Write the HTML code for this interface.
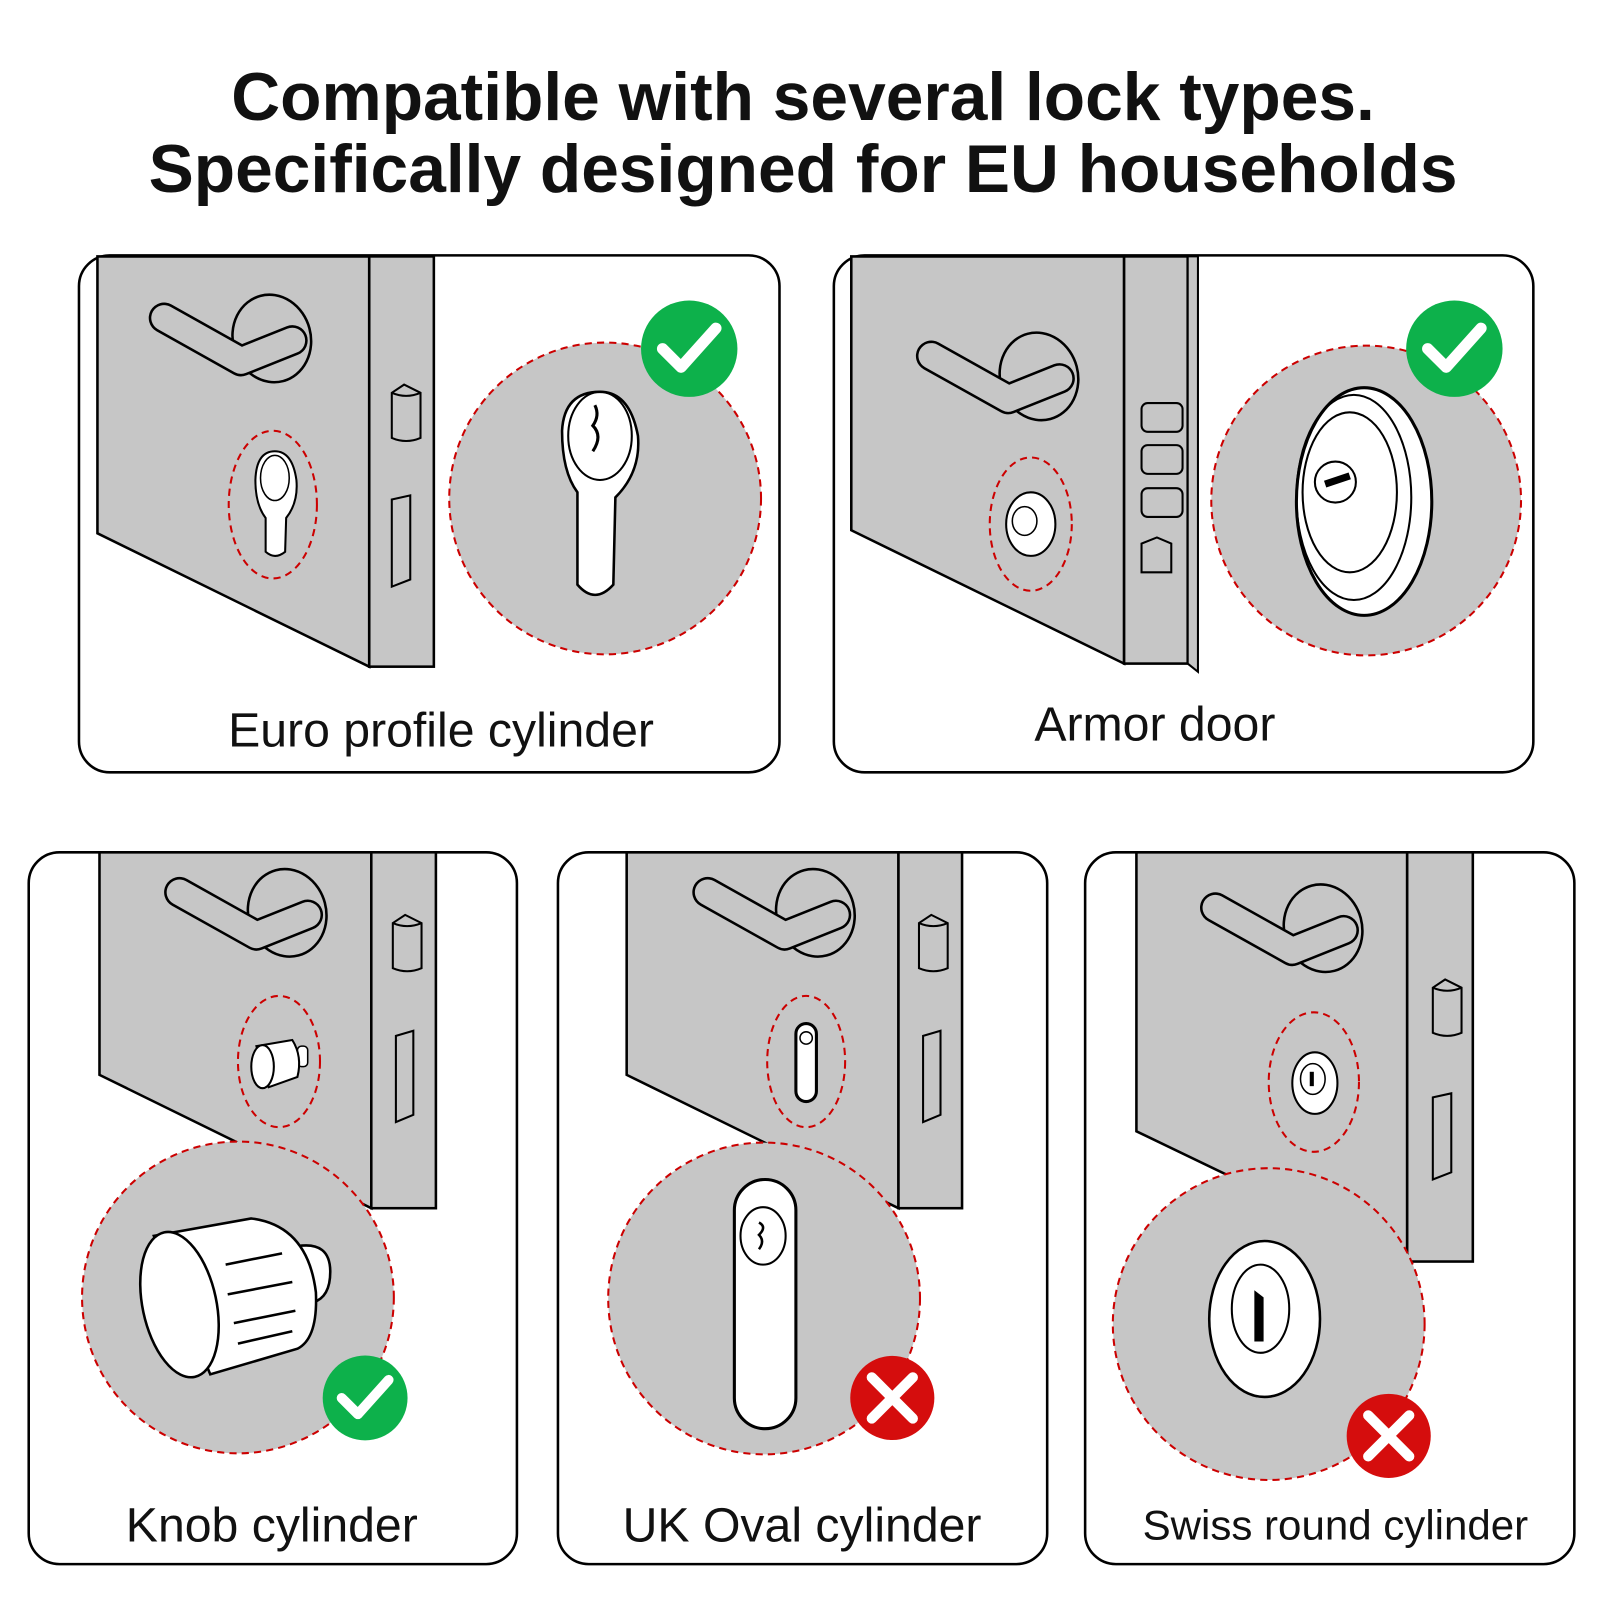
<!DOCTYPE html>
<html><head><meta charset="utf-8"><style>html,body{margin:0;padding:0;background:#fff;overflow:hidden}svg{display:block}</style></head>
<body>
<svg width="1600" height="1600" viewBox="0 0 1560 1560" xmlns="http://www.w3.org/2000/svg" font-family="Liberation Sans, sans-serif">
<defs>
<g id="handle">
<ellipse cx="0" cy="0" rx="38" ry="43" transform="rotate(-15)" fill="#c6c6c6" stroke="#000" stroke-width="2.5"/>
<polyline points="-105,-20 -30,22 20,2" fill="none" stroke="#000" stroke-width="30" stroke-linecap="round" stroke-linejoin="round"/>
<polyline points="-105,-20 -30,22 20,2" fill="none" stroke="#c6c6c6" stroke-width="25" stroke-linecap="round" stroke-linejoin="round"/>
</g>
<g id="latch">
<path d="M0,8 L12,0 L28,8 L28,52 Q14,58 0,52 Z" fill="#c6c6c6" stroke="#000" stroke-width="2"/>
<path d="M0,8 Q14,14 28,8" fill="none" stroke="#000" stroke-width="2"/>
</g>
<g id="check"><circle r="47" fill="#0db14b"/><polyline points="-26,0 -8,18 26,-20" fill="none" stroke="#fff" stroke-width="11" stroke-linecap="round" stroke-linejoin="round"/></g>
<g id="xmark"><circle r="41" fill="#d50d0d"/><path d="M-20,-20 L20,20 M20,-20 L-20,20" stroke="#fff" stroke-width="10" stroke-linecap="round"/></g>
</defs>
<text x="783" y="117" font-size="66" font-weight="bold" text-anchor="middle" fill="#111">Compatible with several lock types.</text>
<text x="783" y="187" font-size="66" font-weight="bold" text-anchor="middle" fill="#111">Specifically designed for EU households</text>

<!-- Panel 1 -->
<rect x="77" y="249" width="683" height="504" rx="30" fill="#fff" stroke="#000" stroke-width="2.5"/>
<polygon points="95,250 360,250 360,650 95,520" fill="#c6c6c6" stroke="#000" stroke-width="2.5"/>
<rect x="360" y="250" width="63" height="400" fill="#c6c6c6" stroke="#000" stroke-width="2.5"/>
<use href="#handle" transform="translate(265,330)"/>
<use href="#latch" transform="translate(382,375)"/>
<polygon points="382,487 400,483 400,565 382,572" fill="#c6c6c6" stroke="#000" stroke-width="2"/>
<ellipse cx="266" cy="492" rx="43" ry="72" fill="none" stroke="#c00" stroke-width="2" stroke-dasharray="7,5"/>
<path d="M259,505 L259,538 Q268,546 278,538 L279,505 Q291,490 289,468 Q285,440 268,440 Q250,440 249,468 Q249,492 259,505Z" fill="#fff" stroke="#000" stroke-width="2"/>
<ellipse cx="268" cy="466" rx="14" ry="22" fill="none" stroke="#000" stroke-width="1.5"/>
<circle cx="590" cy="486" r="152" fill="#c6c6c6" stroke="#c00" stroke-width="2" stroke-dasharray="7,5"/>
<path d="M563,480 L563,570 Q580,590 598,570 L600,485 Q625,460 622,425 Q614,382 585,382 Q550,382 548,420 Q548,460 563,480Z" fill="#fff" stroke="#000" stroke-width="2.5"/>
<ellipse cx="585" cy="425" rx="31" ry="43" fill="none" stroke="#000" stroke-width="2"/>
<path d="M580,395 Q585,405 578,415 Q588,425 578,440" fill="none" stroke="#000" stroke-width="3"/>
<use href="#check" transform="translate(672,340)"/>
<text x="430" y="728" font-size="47" text-anchor="middle" fill="#111">Euro profile cylinder</text>

<!-- Panel 2 -->
<rect x="813" y="249" width="682" height="504" rx="30" fill="#fff" stroke="#000" stroke-width="2.5"/>
<polygon points="830,250 1096,250 1096,647 830,517" fill="#c6c6c6" stroke="#000" stroke-width="2.5"/>
<rect x="1096" y="250" width="62" height="397" fill="#c6c6c6" stroke="#000" stroke-width="2.5"/>
<polygon points="1158,250 1168,250 1168,655 1158,647" fill="#c6c6c6" stroke="#000" stroke-width="2"/>
<use href="#handle" transform="translate(1013,367)"/>
<g fill="#c6c6c6" stroke="#000" stroke-width="2">
<rect x="1113" y="393" width="40" height="28" rx="6"/><rect x="1113" y="434" width="40" height="28" rx="6"/><rect x="1113" y="476" width="40" height="28" rx="6"/>
<path d="M1113,530 L1128,524 L1142,530 L1142,558 L1113,558Z"/></g>
<ellipse cx="1005" cy="511" rx="40" ry="65" fill="none" stroke="#c00" stroke-width="2" stroke-dasharray="7,5"/>
<ellipse cx="1005" cy="511" rx="24" ry="31" fill="#fff" stroke="#000" stroke-width="2"/>
<ellipse cx="999" cy="508" rx="12" ry="14" fill="#fff" stroke="#000" stroke-width="1.5"/>
<circle cx="1332" cy="488" r="151" fill="#c6c6c6" stroke="#c00" stroke-width="2" stroke-dasharray="7,5"/>
<ellipse cx="1330" cy="489" rx="66" ry="111" fill="#fff" stroke="#000" stroke-width="3"/>
<ellipse cx="1320" cy="485" rx="56" ry="100" fill="none" stroke="#000" stroke-width="2"/>
<ellipse cx="1316" cy="480" rx="46" ry="78" fill="none" stroke="#000" stroke-width="2"/>
<circle cx="1302" cy="470" r="20" fill="#fff" stroke="#000" stroke-width="2"/>
<line x1="1292" y1="472" x2="1316" y2="464" stroke="#000" stroke-width="7"/>
<use href="#check" transform="translate(1418,340)"/>
<text x="1126" y="722" font-size="47" text-anchor="middle" fill="#111">Armor door</text>

<!-- Panel 3 -->
<rect x="28" y="831" width="476" height="694" rx="30" fill="#fff" stroke="#000" stroke-width="2.5"/>
<polygon points="97,831 362,831 362,1178 97,1048" fill="#c6c6c6" stroke="#000" stroke-width="2.5"/>
<rect x="362" y="831" width="63" height="347" fill="#c6c6c6" stroke="#000" stroke-width="2.5"/>
<use href="#handle" transform="translate(280,890)"/>
<use href="#latch" transform="translate(383,892)"/>
<polygon points="386,1010 403,1005 403,1087 386,1094" fill="#c6c6c6" stroke="#000" stroke-width="2"/>
<ellipse cx="272" cy="1035" rx="40" ry="64" fill="none" stroke="#c00" stroke-width="2" stroke-dasharray="7,5"/>
<rect x="290" y="1020" width="10" height="20" rx="4" fill="#fff" stroke="#000" stroke-width="1.5"/>
<path d="M250,1020 L285,1014 Q295,1030 290,1050 L262,1060 Z" fill="#fff" stroke="#000" stroke-width="2"/>
<ellipse cx="256" cy="1040" rx="11" ry="21" fill="#fff" stroke="#000" stroke-width="2"/>
<circle cx="232" cy="1265" r="152" fill="#c6c6c6" stroke="#c00" stroke-width="2" stroke-dasharray="7,5"/>
<path d="M290,1215 Q322,1210 322,1240 Q322,1265 305,1270Z" fill="#fff" stroke="#000" stroke-width="2.5"/>
<path d="M150,1205 L245,1188 Q300,1195 308,1260 Q310,1305 290,1315 L205,1340 Z" fill="#fff" stroke="#000" stroke-width="2.5"/>
<ellipse cx="175" cy="1272" rx="36" ry="72" transform="rotate(-12 175 1272)" fill="#fff" stroke="#000" stroke-width="2.5"/>
<g stroke="#000" stroke-width="2.5"><line x1="220" y1="1233" x2="275" y2="1222"/><line x1="222" y1="1262" x2="285" y2="1250"/><line x1="228" y1="1290" x2="288" y2="1278"/><line x1="232" y1="1310" x2="285" y2="1298"/></g>
<use href="#check" transform="translate(356,1363) scale(0.88)"/>
<text x="265" y="1503" font-size="47" text-anchor="middle" fill="#111">Knob cylinder</text>

<!-- Panel 4 -->
<rect x="544" y="831" width="477" height="694" rx="30" fill="#fff" stroke="#000" stroke-width="2.5"/>
<polygon points="611,831 876,831 876,1178 611,1048" fill="#c6c6c6" stroke="#000" stroke-width="2.5"/>
<rect x="876" y="831" width="62" height="347" fill="#c6c6c6" stroke="#000" stroke-width="2.5"/>
<use href="#handle" transform="translate(795,890)"/>
<use href="#latch" transform="translate(896,892)"/>
<polygon points="900,1010 917,1005 917,1087 900,1094" fill="#c6c6c6" stroke="#000" stroke-width="2"/>
<ellipse cx="786" cy="1035" rx="38" ry="64" fill="none" stroke="#c00" stroke-width="2" stroke-dasharray="7,5"/>
<rect x="776" y="998" width="20" height="76" rx="10" fill="#fff" stroke="#000" stroke-width="3"/>
<circle cx="786" cy="1012" r="6" fill="none" stroke="#000" stroke-width="1.5"/>
<circle cx="745" cy="1266" r="152" fill="#c6c6c6" stroke="#c00" stroke-width="2" stroke-dasharray="7,5"/>
<rect x="716" y="1150" width="60" height="243" rx="30" fill="#fff" stroke="#000" stroke-width="3"/>
<ellipse cx="744" cy="1205" rx="22" ry="28" fill="none" stroke="#000" stroke-width="2"/>
<path d="M740,1192 Q748,1196 740,1204 Q746,1210 740,1218" fill="none" stroke="#000" stroke-width="2.5"/>
<use href="#xmark" transform="translate(870,1363)"/>
<text x="782" y="1503" font-size="47" text-anchor="middle" fill="#111">UK Oval cylinder</text>

<!-- Panel 5 -->
<rect x="1058" y="831" width="477" height="694" rx="30" fill="#fff" stroke="#000" stroke-width="2.5"/>
<polygon points="1108,831 1372,831 1372,1230 1108,1103" fill="#c6c6c6" stroke="#000" stroke-width="2.5"/>
<rect x="1372" y="831" width="64" height="399" fill="#c6c6c6" stroke="#000" stroke-width="2.5"/>
<use href="#handle" transform="translate(1290,905)"/>
<use href="#latch" transform="translate(1397,955)"/>
<polygon points="1397,1070 1415,1066 1415,1143 1397,1150" fill="#c6c6c6" stroke="#000" stroke-width="2"/>
<ellipse cx="1281" cy="1055" rx="44" ry="68" fill="none" stroke="#c00" stroke-width="2" stroke-dasharray="7,5"/>
<ellipse cx="1282" cy="1056" rx="22" ry="30" fill="#fff" stroke="#000" stroke-width="2"/>
<ellipse cx="1280" cy="1052" rx="12" ry="15" fill="#fff" stroke="#000" stroke-width="1.5"/>
<rect x="1277" y="1045" width="4" height="14" fill="#000"/>
<circle cx="1237" cy="1291" r="152" fill="#c6c6c6" stroke="#c00" stroke-width="2" stroke-dasharray="7,5"/>
<ellipse cx="1233" cy="1286" rx="54" ry="76" fill="#fff" stroke="#000" stroke-width="2.5"/>
<ellipse cx="1229" cy="1276" rx="28" ry="43" fill="#fff" stroke="#000" stroke-width="2"/>
<polygon points="1223,1258 1232,1265 1232,1308 1223,1308" fill="#000"/>
<use href="#xmark" transform="translate(1354,1400)"/>
<text x="1302" y="1501" font-size="41" text-anchor="middle" fill="#111">Swiss round cylinder</text>
</svg>
</body></html>
